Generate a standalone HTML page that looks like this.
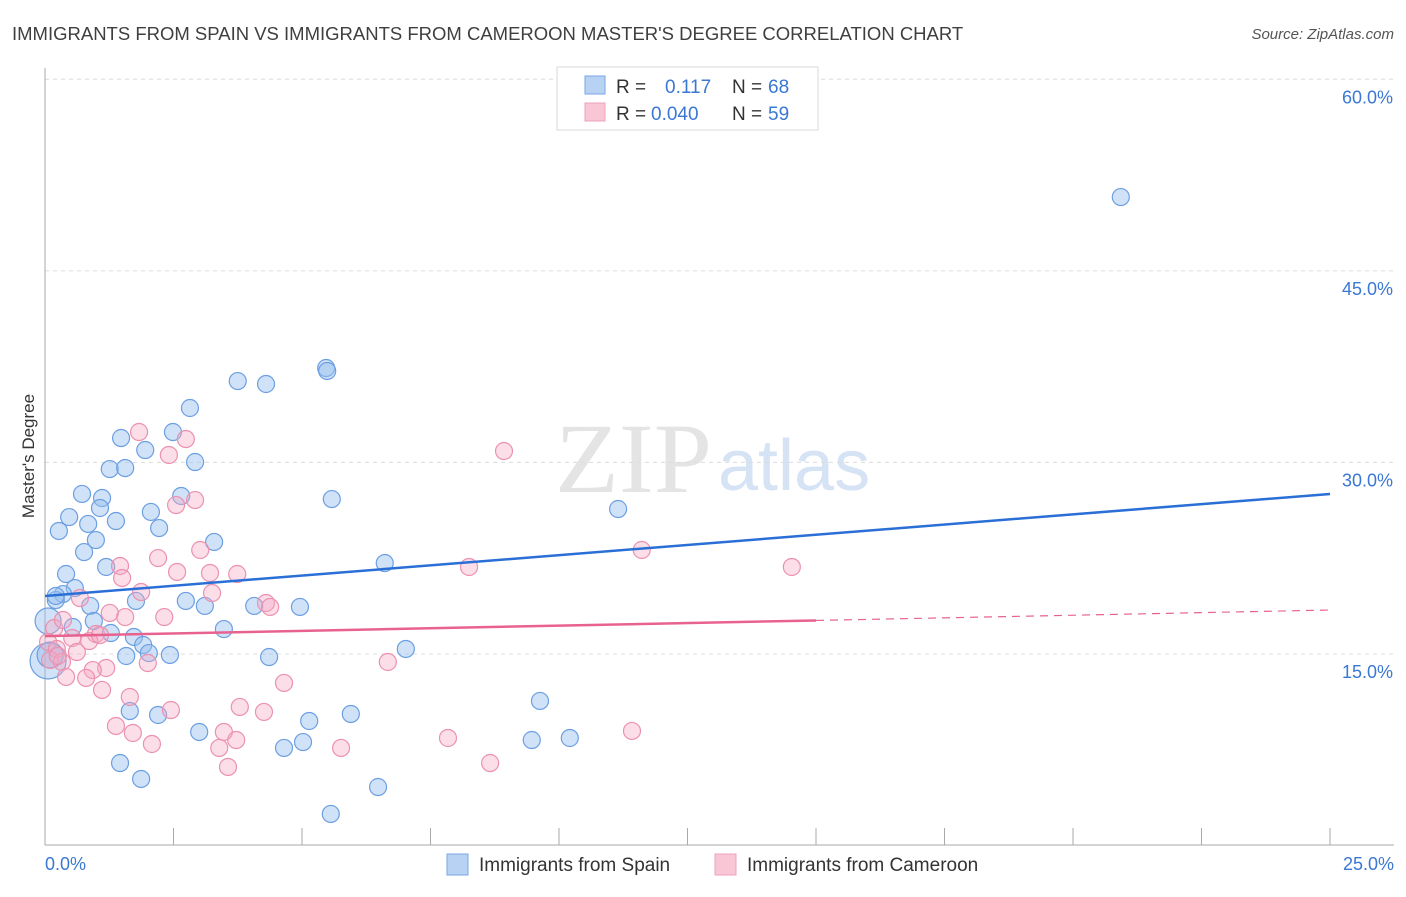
<!DOCTYPE html>
<html><head><meta charset="utf-8"><style>
body{margin:0;background:#fff;font-family:"Liberation Sans",sans-serif;}
</style></head><body>
<svg id="chart" width="1406" height="892" viewBox="0 0 1406 892" xmlns="http://www.w3.org/2000/svg" font-family="Liberation Sans, sans-serif">
<text x="12" y="40" font-size="18.5" fill="#3f3f3f">IMMIGRANTS FROM SPAIN VS IMMIGRANTS FROM CAMEROON MASTER'S DEGREE CORRELATION CHART</text>
<text x="1394" y="39" font-size="15" fill="#555" text-anchor="end" font-style="italic">Source: ZipAtlas.com</text>
<text x="555" y="492" font-size="100" fill="#e4e4e4" textLength="157" lengthAdjust="spacingAndGlyphs" font-family="Liberation Serif, serif">ZIP</text>
<text x="718" y="490" font-size="72" fill="#d6e3f5">atlas</text>
<g id="grid"></g>
<g id="axes"></g>
<g id="pts"></g>
<g id="lines"></g>
<text transform="translate(34,456) rotate(-90)" font-size="17" fill="#333" text-anchor="middle">Master's Degree</text>
<g>
<rect x="557" y="67" width="261" height="63" fill="#fff" stroke="#d8d8d8"/>
<rect x="585" y="76" width="20" height="18" fill="#b8d2f4" stroke="#7aa6e4"/>
<rect x="585" y="103" width="20" height="18" fill="#f9c6d5" stroke="#eea1b9"/>
<text x="616" y="93" font-size="19" fill="#333">R = </text><text x="665" y="93" font-size="19" fill="#3a78d4">0.117</text>
<text x="732" y="93" font-size="19" fill="#333">N = </text><text x="768" y="93" font-size="19" fill="#3a78d4">68</text>
<text x="616" y="120" font-size="19" fill="#333">R = </text><text x="651" y="120" font-size="19" fill="#3a78d4">0.040</text>
<text x="732" y="120" font-size="19" fill="#333">N = </text><text x="768" y="120" font-size="19" fill="#3a78d4">59</text>
</g>
<g>
<rect x="447" y="854" width="21" height="21" fill="#b8d2f4" stroke="#7aa6e4"/>
<text x="479" y="871" font-size="19" fill="#333">Immigrants from Spain</text>
<rect x="715" y="854" width="21" height="21" fill="#f9c6d5" stroke="#eea1b9"/>
<text x="747" y="871" font-size="19" fill="#333">Immigrants from Cameroon</text>
</g>
</svg>
<script>
const blueX=[20.93,5.47,5.49,3.75,4.30,2.82,1.48,2.49,1.95,2.92,1.26,1.56,0.72,1.11,2.65,5.58,1.07,0.47,2.06,1.38,0.84,0.27,2.22,0.99,0.76,3.29,11.15,6.61,1.19,0.41,0.58,0.35,0.21,1.77,2.74,3.11,4.07,4.96,0.88,0.95,0.54,1.28,1.73,3.48,1.91,2.02,2.43,1.58,7.02,4.36,0.06,0.06,9.63,2.20,1.65,5.95,5.14,3.00,9.47,10.21,5.02,4.65,1.46,1.87,6.48,5.56,0.21,0.10];
const blueY=[50.78,37.39,37.16,36.37,36.14,34.26,31.91,32.38,30.97,30.03,29.48,29.56,27.53,27.21,27.37,27.13,26.43,25.72,26.12,25.41,25.18,24.63,24.86,23.92,22.98,23.77,26.35,22.12,21.81,21.26,20.16,19.69,19.22,19.15,19.15,18.76,18.76,18.68,18.76,17.58,17.11,16.64,16.33,16.95,15.70,15.07,14.92,14.84,15.39,14.76,17.58,14.45,11.32,10.22,10.53,10.30,9.75,8.89,8.26,8.42,8.10,7.64,6.46,5.21,4.58,2.47,19.54,14.92];
const pinkX=[8.93,1.83,2.74,2.41,2.55,2.92,3.02,2.20,1.46,2.57,3.74,3.21,1.50,11.61,8.25,14.53,0.68,1.87,3.25,4.30,4.38,1.26,1.56,2.32,0.18,0.99,0.53,0.86,1.07,0.06,0.23,0.62,0.10,0.33,1.19,0.93,2.00,6.67,0.41,0.80,1.11,4.65,1.65,3.79,2.45,4.26,1.38,3.48,1.71,3.72,2.08,3.39,5.76,7.84,11.42,3.56,8.66,0.35,0.25];
const pinkY=[30.89,32.38,31.83,30.58,26.66,27.05,23.14,22.51,21.89,21.42,21.26,21.34,20.95,23.14,21.81,21.81,19.38,19.85,19.77,18.99,18.68,18.21,17.89,17.89,17.03,16.56,16.25,16.01,16.48,15.94,15.39,15.15,14.53,14.37,13.90,13.74,14.29,14.37,13.20,13.12,12.18,12.73,11.63,10.85,10.61,10.46,9.36,8.89,8.81,8.26,7.95,7.64,7.64,8.42,8.97,6.15,6.46,17.66,14.84];
const blueTrend=[19.54,27.53];
const pinkTrend=[16.4,18.44];
const pinkSolidEnd=15.0;
const yTicks=[15,30,45,60];
const xTickLabels=["0.0%","25.0%"];
const X0=45,X1=1330,Y0=845.5,PXY=12.77;
const sx=v=>X0+(X1-X0)*v/25;
const sy=v=>Y0-v*PXY;
const NS="http://www.w3.org/2000/svg";
function mk(tag,attrs,parent){const e=document.createElementNS(NS,tag);for(const k in attrs)e.setAttribute(k,attrs[k]);parent.appendChild(e);return e;}
const grid=document.getElementById('grid'),axes=document.getElementById('axes'),pts=document.getElementById('pts'),lines=document.getElementById('lines');
yTicks.forEach(t=>{
 const l=mk('line',{x1:X0,x2:1394,y1:sy(t),y2:sy(t),stroke:'#dcdcdc','stroke-dasharray':'4,4'},grid);
 
 
 const tx=mk('text',{x:1393,y:sy(t)+24,'font-size':18,fill:'#3a78d4','text-anchor':'end'},axes);
 tx.textContent=t.toFixed(1)+'%';
 
 
});
const ya=mk('line',{x1:X0,x2:X0,y1:68,y2:845,stroke:'#aaa'},axes);


const xa=mk('line',{x1:X0,x2:1394,y1:845,y2:845,stroke:'#aaa'},axes);


for(let i=0;i<=10;i++){
 const t=mk('line',{x1:sx(i*2.5),x2:sx(i*2.5),y1:828,y2:845,stroke:'#aaa'},axes);
 
 
}
const xl0=mk('text',{x:45,y:870,'font-size':18,fill:'#3a78d4'},axes);xl0.textContent=xTickLabels[0];


const xl1=mk('text',{x:1394,y:870,'font-size':18,fill:'#3a78d4','text-anchor':'end'},axes);xl1.textContent=xTickLabels[1];


function dots(xs,ys,fill,stroke,name){
 xs.forEach((x,i)=>{
  const r=(x<0.15&&name==='spain-point')?(i===51?18:13):8.5;
  const c=mk('circle',{cx:sx(x),cy:sy(ys[i]),r:r,fill:fill,stroke:stroke,'stroke-width':1.2},pts);
  
  
 });
}
dots(blueX,blueY,'rgba(150,190,238,0.45)','#6c9fe2','spain-point');
dots(pinkX,pinkY,'rgba(244,168,194,0.38)','#ec91b0','cameroon-point');
const bl=mk('line',{x1:sx(0),y1:sy(blueTrend[0]),x2:sx(25),y2:sy(blueTrend[1]),stroke:'#2a6fd6','stroke-width':2.5},lines);


const pAt=x=>pinkTrend[0]+(pinkTrend[1]-pinkTrend[0])*x/25;
const pl=mk('line',{x1:sx(0),y1:sy(pAt(0)),x2:sx(pinkSolidEnd),y2:sy(pAt(pinkSolidEnd)),stroke:'#e8628f','stroke-width':2.5},lines);


const pd=mk('line',{x1:sx(pinkSolidEnd),y1:sy(pAt(pinkSolidEnd)),x2:sx(25),y2:sy(pAt(25)),stroke:'#e8628f','stroke-width':1.2,'stroke-dasharray':'8,6'},lines);


</script>
</body></html>
